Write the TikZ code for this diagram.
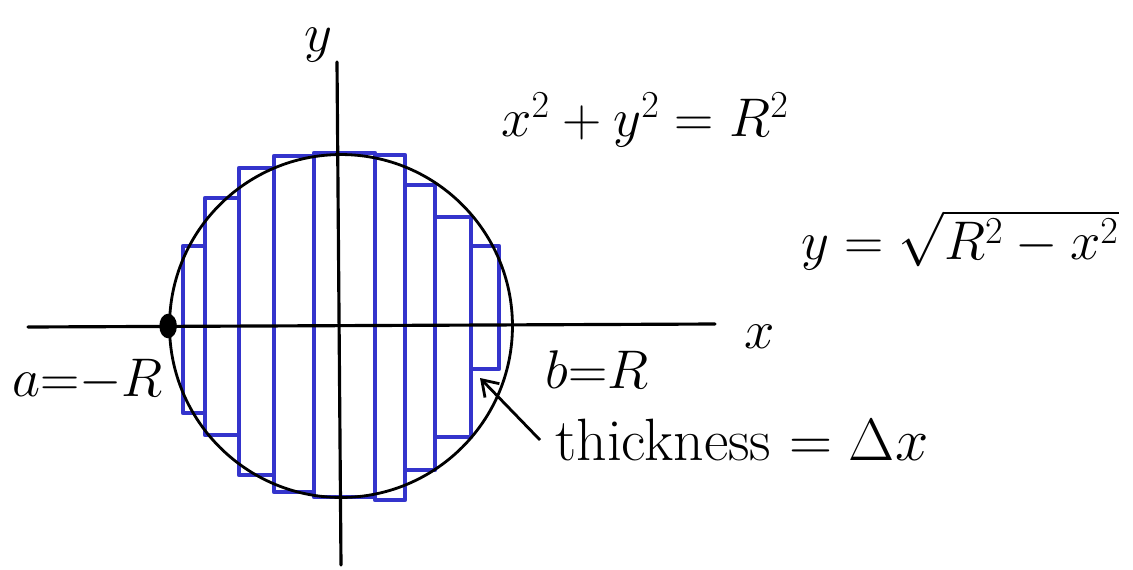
\documentclass[tikz,border=0pt]{standalone}
\usepackage{fix-cm}
\usepackage{amsmath,amssymb}
\usepackage{xcolor}
\usetikzlibrary{arrows.meta,positioning,calc}
\definecolor{stripblue}{RGB}{52,52,204}
\tikzset{
  axisline/.style={draw=black, line width=1.8pt, line cap=round},
  disc/.style={draw=black, line width=1.6pt},
  slab/.style={draw=stripblue, line width=2.4pt, line join=round},
  handlbl/.style={font=\fontsize{31}{36}\selectfont, inner sep=0pt},
  pointer/.style={-{Straight Barb[length=3mm, width=4mm]}, line width=1.6pt}
}
\begin{document}
\begin{tikzpicture}[x=0.02cm, y=-0.02cm]
\useasboundingbox (0,0) rectangle (1133,569);
% vertical slices of the disc
\foreach \xa/\xb/\top/\bot in {183/205/246/413, 205/239/198/435, 239/274/168/475,
  274/314/156/492, 314/375/153/497, 375/405/155/500, 405/435/185/470,
  435/471/217/437, 471/499/246/369}
  \draw[slab] (\xa,\bot) rectangle (\xb,\top);
% disc and axes
\node[circle, disc, minimum size=6.86cm, inner sep=0pt] (disc) at (341,326) {};
\coordinate (xl) at (28,327);
\coordinate (xr) at (715,324);
\coordinate (yb) at (341,565);
\coordinate (yt) at (337,62);
\draw[axisline] (xl) -- (xr);
\draw[axisline] (yb) -- (yt);
\fill (disc.west) ellipse (5pt and 7pt);
% labels
\node[handlbl] (ylbl) at (318,45) {$y$};
\node[handlbl] (xlbl) at (760,337) {$x$};
\node[handlbl, anchor=west] (alim) at (12,380) {$a{=}{-}R$};
\node[handlbl, anchor=west] (blim) at (545,370) {$b{=}R$};
\node[handlbl] (circeq) at (645,120) {$x^2+y^2=R^2$};
\node[handlbl] (topeq) at (960,240) {$y=\sqrt{R^2-x^2}$};
\node[handlbl, anchor=west, font=\fontsize{34}{38}\selectfont] (thick) at (555,440) {thickness $=\Delta x$};
\coordinate (slice) at (480,378);
\draw[pointer] (thick.west) ++(-15,0) coordinate (tail) (tail) -- (slice);
\end{tikzpicture}
\end{document}
